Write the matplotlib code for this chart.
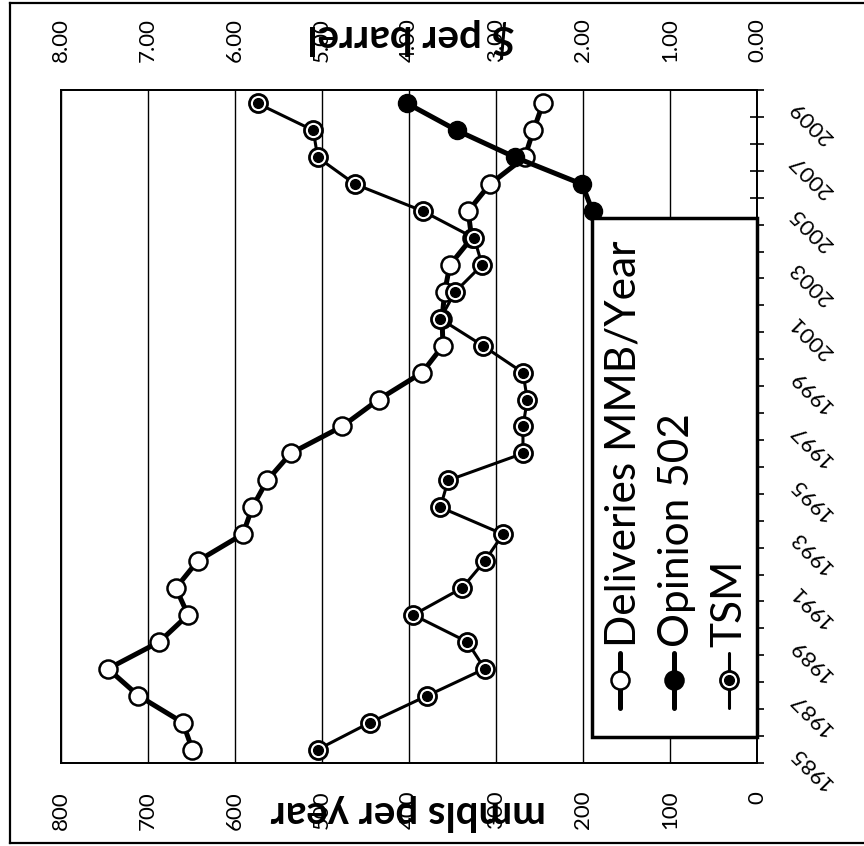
import numpy as np
import matplotlib
matplotlib.use('Agg')
import matplotlib.pyplot as plt
from matplotlib.lines import Line2D
from matplotlib.patches import Rectangle

years = list(range(1985, 2010))
deliveries = [649, 660, 711, 746, 687, 654, 668, 643, 591, 580, 563, 536, 477,
              435, 385, 361, 362, 359, 353, 328, 332, 307, 267, 257, 246]
tsm = [5.05, 4.45, 3.79, 3.13, 3.33, 3.95, 3.39, 3.13, 2.92, 3.64, 3.55, 2.69,
       2.69, 2.64, 2.69, 3.15, 3.64, 3.47, 3.16, 3.25, 3.84, 4.62, 5.05, 5.10, 5.74]
opinion_years = [2005, 2006, 2007, 2008, 2009]
opinion_502 = [1.89, 2.01, 2.78, 3.45, 4.02]
mmbls_ticks = list(range(0, 801, 100))
price_ticks = [0, 1, 2, 3, 4, 5, 6, 7, 8]
year_labels = years[::2]
legend_labels = ['Deliveries MMB/Year', 'Opinion 502', 'TSM']

plt.rcParams['font.family'] = ['Lato', 'DejaVu Sans']

W, H = 864, 846
fig = plt.figure(figsize=(W / 100, H / 100), dpi=100)
# the whole chart is turned 90 degrees: values run right-to-left, years bottom-to-top
ax = fig.add_axes((61 / W, 1 - 763 / H, 696 / W, 673 / H))
ax2 = ax.twiny()

ax.plot(deliveries, years, color='black', lw=3.6, marker='o', ms=13,
        mfc='white', mec='black', mew=1.8, zorder=3)
ax2.plot(tsm, years, color='black', lw=2.2, marker='o', ms=13,
         mfc='white', mec='black', mew=2, zorder=3)
ax2.plot(tsm, years, ls='none', marker='o', ms=7, color='black', zorder=4)
ax2.plot(opinion_502, opinion_years, color='black', lw=3.6, marker='o', ms=13, zorder=5)

ax.set_xlim(800, 0)
ax2.set_xlim(8, 0)
ax.set_ylim(1984.5, 2009.5)

ax.set_xticks(mmbls_ticks)
ax.set_xticklabels([str(v) for v in mmbls_ticks])
ax.tick_params(axis='x', length=0, pad=20, labelsize=16, labelrotation=90)
ax2.set_xticks(price_ticks)
ax2.set_xticklabels([f'{v:.2f}' for v in price_ticks])
ax2.tick_params(axis='x', length=0, pad=20, labelsize=16, labelrotation=90)

ax.yaxis.tick_right()
ax.set_yticks(year_labels)
ax.set_yticklabels([str(y) for y in year_labels])
ax.set_yticks(np.arange(1984.5, 2010, 1), minor=True)
ax.tick_params(axis='y', which='major', length=0, pad=26, labelsize=16)
ax.tick_params(axis='y', which='minor', direction='inout', length=10, width=1.2)
for lab in ax.get_yticklabels():
    lab.set_rotation(135)
    lab.set_rotation_mode('anchor')
    lab.set_ha('right')
    lab.set_va('center')

ax.grid(axis='x', color='black', lw=1)
for a in (ax, ax2):
    for s in a.spines.values():
        s.set_color('black')
        s.set_linewidth(1.3)

fig.text(411 / W, 1 - 38 / H, '$ per barrel', rotation=180, fontsize=29,
         fontweight='bold', ha='center', va='center')
fig.text(408 / W, 1 - 812 / H, 'mmbls per year', rotation=180, fontsize=29,
         fontweight='bold', ha='center', va='center')

# outer frame (its right side is cut off in the reference)
fl, ft, fb = 10 / W, 1 - 3 / H, 1 - 843 / H
fig.add_artist(Line2D([fl, fl], [fb, ft], color='black', lw=1.6))
fig.add_artist(Line2D([fl, 1], [ft, ft], color='black', lw=1.6))
fig.add_artist(Line2D([fl, 1], [fb, fb], color='black', lw=1.6))

# hand-made legend, drawn sideways like the rest
tr = ax2.transAxes
ax2.add_patch(Rectangle((0.763, 0.0386), 0.237, 0.771, transform=tr, fc='white',
                        ec='black', lw=2.5, zorder=10, clip_on=False))
handle_x = [0.803, 0.881, 0.960]
text_x = [0.825, 0.902, 0.978]
styles = [dict(lw=3.6, mfc='white', mec='black', mew=1.8),
          dict(lw=3.6, mfc='black', mec='black', mew=1.8),
          dict(lw=2.2, mfc='white', mec='black', mew=2)]
for hx, tx, lab, st in zip(handle_x, text_x, legend_labels, styles):
    ax2.add_line(Line2D([hx, hx], [0.0817, 0.163], transform=tr, color='black',
                        lw=st['lw'], solid_capstyle='round', zorder=11, clip_on=False))
    ax2.add_line(Line2D([hx], [0.123], transform=tr, marker='o', ms=13, mfc=st['mfc'],
                        mec=st['mec'], mew=st['mew'], zorder=12, clip_on=False))
    if lab == 'TSM':
        ax2.add_line(Line2D([hx], [0.123], transform=tr, marker='o', ms=7,
                            color='black', zorder=13, clip_on=False))
    ax2.text(tx, 0.172, lab, transform=tr, rotation=90, rotation_mode='anchor',
             ha='left', va='baseline', fontsize=30.5, zorder=12)

fig.savefig('out.png', dpi=100)
